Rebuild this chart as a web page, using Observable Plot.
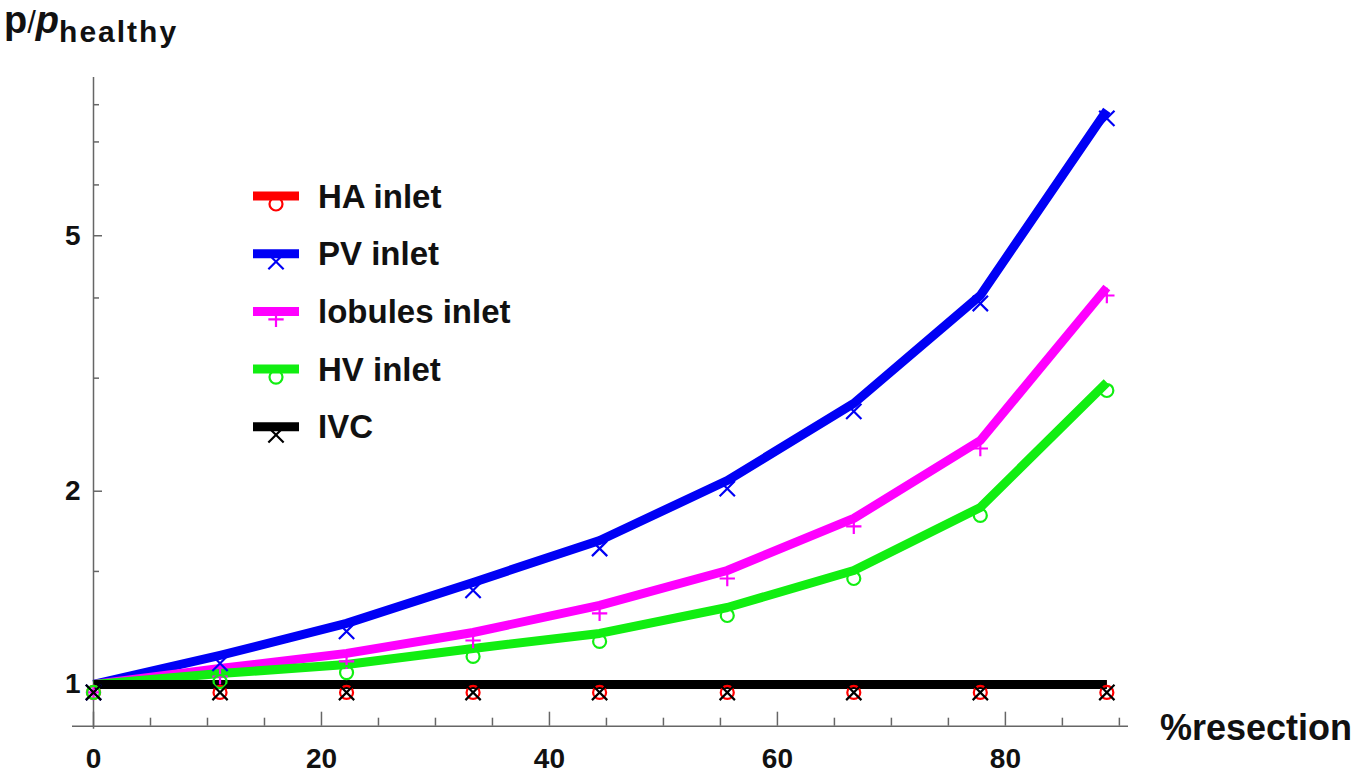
<!DOCTYPE html>
<html>
<head>
<meta charset="utf-8">
<script src="https://cdn.jsdelivr.net/npm/d3@7"></script>
<script src="https://cdn.jsdelivr.net/npm/@observablehq/plot@0.6"></script>
<style>
  html, body { margin: 0; padding: 0; background: white; }
  #chart { position: relative; width: 1356px; height: 773px; }
</style>
</head>
<body>
<div id="chart"></div>
<script>
// ---- data ----
const resection = [0, 11.1, 22.2, 33.3, 44.4, 55.6, 66.7, 77.8, 88.9];
const haInlet      = [1, 1, 1, 1, 1, 1, 1, 1, 1];
const pvInlet      = [1, 1.110, 1.245, 1.442, 1.676, 2.078, 2.740, 4.036, 7.84];
const lobulesInlet = [1, 1.059, 1.118, 1.205, 1.328, 1.505, 1.814, 2.399, 4.153];
const hvInlet      = [1, 1.040, 1.074, 1.138, 1.201, 1.318, 1.505, 1.887, 2.954];
const ivc          = [1, 1, 1, 1, 1, 1, 1, 1, 1];

const seriesNames   = ["HA inlet", "PV inlet", "lobules inlet", "HV inlet", "IVC"];
const seriesValues  = [haInlet, pvInlet, lobulesInlet, hvInlet, ivc];
const seriesColors  = ["#ff0000", "#0000f5", "#ff00ff", "#11ee11", "#000000"];
const seriesSymbols = ["circle", "times", "plus", "circle", "times"];

const xTicksMajor = [0, 20, 40, 60, 80];
const xTicksMinor = [5, 10, 15, 25, 30, 35, 45, 50, 55, 65, 70, 75, 85, 90];
const yTicksMajor = [1, 2, 5];
const yTicksMinor = [1.5, 3, 4, 6, 7, 8];
const xDomain = [0, 90.8];
const yDomain = [0.861, 8.82];

// ---- layout / style ----
const W = 1356, H = 773;
const mL = 93, mR = 228, mT = 77, mB = 47.3;
const innerW = W - mL - mR, innerH = H - mT - mB;
const axisColor = "#666";
const font = "Liberation Sans, Arial, Helvetica, sans-serif";
const symbolR = {circle: 6.5, times: 7, plus: 5};

const rows = [];
seriesNames.forEach((name, si) => {
  resection.forEach((x, i) => rows.push({x, y: seriesValues[si][i], series: name}));
});

const dotMarks = seriesNames.map((name, si) =>
  Plot.dot(rows.filter(d => d.series === name), {
    x: "x", y: "y", symbol: seriesSymbols[si], r: symbolR[seriesSymbols[si]],
    stroke: seriesColors[si], fill: "none", strokeWidth: 2.2, dy: 8
  })
);

const chart = Plot.plot({
  width: W, height: H,
  marginLeft: mL, marginRight: mR, marginTop: mT, marginBottom: mB,
  style: {fontFamily: font, background: "white", overflow: "visible"},
  x: {domain: xDomain},
  y: {type: "log", domain: yDomain},
  color: {domain: seriesNames, range: seriesColors},
  marks: [
    // axis lines
    Plot.ruleY([yDomain[0]], {stroke: axisColor, strokeWidth: 1.5, insetLeft: -21}),
    Plot.ruleX([0], {stroke: axisColor, strokeWidth: 1.5, insetBottom: -3}),
    // x ticks (inward)
    Plot.ruleX(xTicksMajor, {x: d => d, stroke: axisColor, strokeWidth: 1.5, insetTop: innerH - 14}),
    Plot.ruleX(xTicksMinor, {x: d => d, stroke: axisColor, strokeWidth: 1.5, insetTop: innerH - 8}),
    // y ticks (inward)
    Plot.ruleY(yTicksMajor, {y: d => d, stroke: axisColor, strokeWidth: 1.5, insetRight: innerW - 9}),
    Plot.ruleY(yTicksMinor, {y: d => d, stroke: axisColor, strokeWidth: 1.5, insetRight: innerW - 6}),
    // tick labels
    Plot.axisX({ticks: xTicksMajor, tickSize: 0, tickPadding: 22, fontSize: 28, fontWeight: "bold", label: null, fill: "#111", tickFormat: d => String(d)}),
    Plot.axisY({ticks: yTicksMajor, tickSize: 0, tickPadding: 13, fontSize: 28, fontWeight: "bold", label: null, fill: "#111", tickFormat: d => String(d)}),
    // series
    Plot.line(rows, {x: "x", y: "y", z: "series", stroke: "series", strokeWidth: 9, strokeLinejoin: "round", strokeLinecap: "butt"}),
    ...dotMarks
  ]
});

document.getElementById("chart").appendChild(chart);

// ---- titles and legend (added to the same SVG) ----
const svg = d3.select(chart);

const title = svg.append("text").attr("x", 4).attr("y", 33)
  .attr("text-anchor", "start").attr("font-family", font).attr("fill", "#111");
title.append("tspan").attr("font-size", 38).attr("font-weight", "bold").text("p");
title.append("tspan").attr("font-size", 31).attr("font-weight", "normal").text("/");
title.append("tspan").attr("font-size", 38).attr("font-weight", "bold").attr("font-style", "italic").text("p");
title.append("tspan").attr("font-size", 30).attr("font-weight", "bold").attr("letter-spacing", 2)
  .attr("dy", 9).text("healthy");

svg.append("text").attr("x", 1160).attr("y", 740).attr("text-anchor", "start")
  .attr("font-family", font).attr("font-size", 36).attr("font-weight", "bold").attr("fill", "#111")
  .text("%resection");

const d3Sym = {circle: d3.symbolCircle, times: d3.symbolTimes, plus: d3.symbolPlus};
const legend = svg.append("g");
seriesNames.forEach((name, i) => {
  const cy = 196 + i * 57.7;
  legend.append("line").attr("x1", 253).attr("x2", 299).attr("y1", cy).attr("y2", cy)
    .attr("stroke", seriesColors[i]).attr("stroke-width", 9);
  const r = symbolR[seriesSymbols[i]];
  legend.append("path")
    .attr("d", d3.symbol(d3Sym[seriesSymbols[i]], Math.PI * r * r)())
    .attr("transform", `translate(276,${cy + 8})`)
    .attr("fill", "none").attr("stroke", seriesColors[i]).attr("stroke-width", 2.2);
  legend.append("text").attr("x", 318).attr("y", cy + 11.5).attr("text-anchor", "start")
    .attr("font-family", font).attr("font-size", 33).attr("font-weight", "bold").attr("fill", "#111")
    .text(name);
});
</script>
</body>
</html>
